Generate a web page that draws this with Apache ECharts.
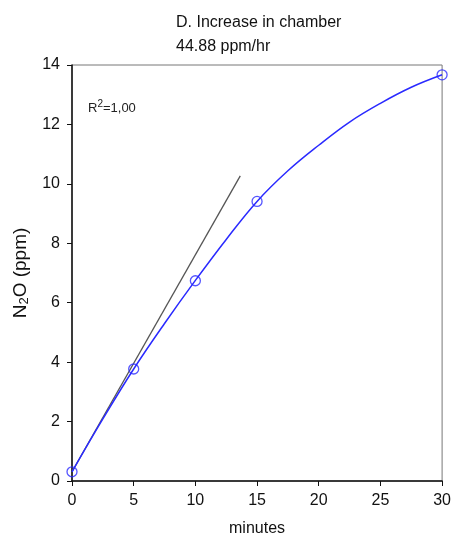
<!DOCTYPE html>
<html>
<head>
<meta charset="utf-8">
<script src="https://cdn.jsdelivr.net/npm/echarts@6/dist/echarts.min.js"></script>
<style>
  html, body { margin: 0; padding: 0; background: #fff; }
  #container { width: 454px; height: 542px; }
</style>
</head>
<body>
<div id="container"></div>
<script>
var dom = document.getElementById('container');
var myChart = echarts.init(dom, null, { renderer: 'canvas' });

// measured points (minutes, ppm)
const minutes = [0, 5, 10, 15, 30];
const n2o = [0.31, 3.77, 6.74, 9.41, 13.67];

// fitted curve
const fitX = [0, 2.5, 5, 7.5, 10, 12.5, 15, 17.5, 20, 22.5, 25, 27.5, 30];
const fitY = [0.31, 2.09, 3.77, 5.3, 6.75, 8.13, 9.41, 10.44, 11.3, 12.08, 12.71, 13.25, 13.67];

// initial slope line
const slopeX = [0, 13.64];
const slopeY = [0.31, 10.27];

const font = '"Liberation Sans Narrow", "Liberation Sans", Arial, sans-serif';
const blue = '#2a2aff';

const zip = (a, b) => a.map((v, i) => [v, b[i]]);

var option = {
  animation: false,
  title: [{
    left: 171,
    top: 6,
    text: 'D. Increase in chamber\n44.88 ppm/hr',
    textStyle: { fontFamily: font, fontSize: 16, fontWeight: 'normal', color: '#111', lineHeight: 24 }
  }, {
    left: 83,
    top: 94,
    text: '{a|R}{s|2}{a|=1,00}',
    textStyle: {
      fontWeight: 'normal',
      rich: {
        a: { fontFamily: font, fontSize: 13, fontWeight: 'normal', color: '#222', verticalAlign: 'bottom', lineHeight: 16 },
        s: { fontFamily: font, fontSize: 10, fontWeight: 'normal', color: '#222', verticalAlign: 'top', lineHeight: 16, padding: [0, 0, 6, 0] }
      }
    }
  }],
  grid: {
    left: 72, right: 11, top: 65, bottom: 61,
    show: true, borderColor: '#777', borderWidth: 1
  },
  xAxis: {
    type: 'value', min: 0, max: 30, interval: 5,
    name: 'minutes', nameLocation: 'middle', nameGap: 40,
    nameTextStyle: { fontFamily: font, fontSize: 16, color: '#111' },
    axisLine: { show: true, onZero: false, lineStyle: { color: '#111', width: 1.5 } },
    axisTick: { show: true, length: 5, lineStyle: { color: '#111' } },
    axisLabel: { fontFamily: font, fontSize: 16, color: '#111', margin: 12 },
    splitLine: { show: false }
  },
  yAxis: {
    type: 'value', min: 0, max: 14, interval: 2,
    name: '{a|N}{s|2}{a|O (ppm)}', nameLocation: 'middle', nameGap: 40, nameRotate: 90,
    nameTextStyle: {
      rich: {
        a: { fontFamily: font, fontSize: 19, color: '#111', lineHeight: 22 },
        s: { fontFamily: font, fontSize: 13, color: '#111', verticalAlign: 'bottom', lineHeight: 22, padding: [7, 0, 0, 0] }
      }
    },
    axisLine: { show: true, onZero: false, lineStyle: { color: '#111', width: 1.5 } },
    axisTick: { show: true, length: 5, lineStyle: { color: '#111' } },
    axisLabel: { fontFamily: font, fontSize: 16, color: '#111', margin: 12 },
    splitLine: { show: false }
  },
  series: [{
    type: 'line',
    data: zip(slopeX, slopeY),
    showSymbol: false,
    lineStyle: { color: '#555', width: 1.3 },
    z: 2
  }, {
    type: 'line',
    data: zip(fitX, fitY),
    smooth: 0.4,
    showSymbol: false,
    lineStyle: { color: blue, width: 1.5 },
    z: 3
  }, {
    type: 'scatter',
    data: zip(minutes, n2o),
    symbol: 'circle',
    symbolSize: 10,
    itemStyle: { color: 'rgba(255,255,255,0)', borderColor: blue, borderWidth: 1.3 },
    clip: false,
    z: 4
  }]
};

myChart.setOption(option);
window.addEventListener('resize', myChart.resize);
</script>
</body>
</html>
